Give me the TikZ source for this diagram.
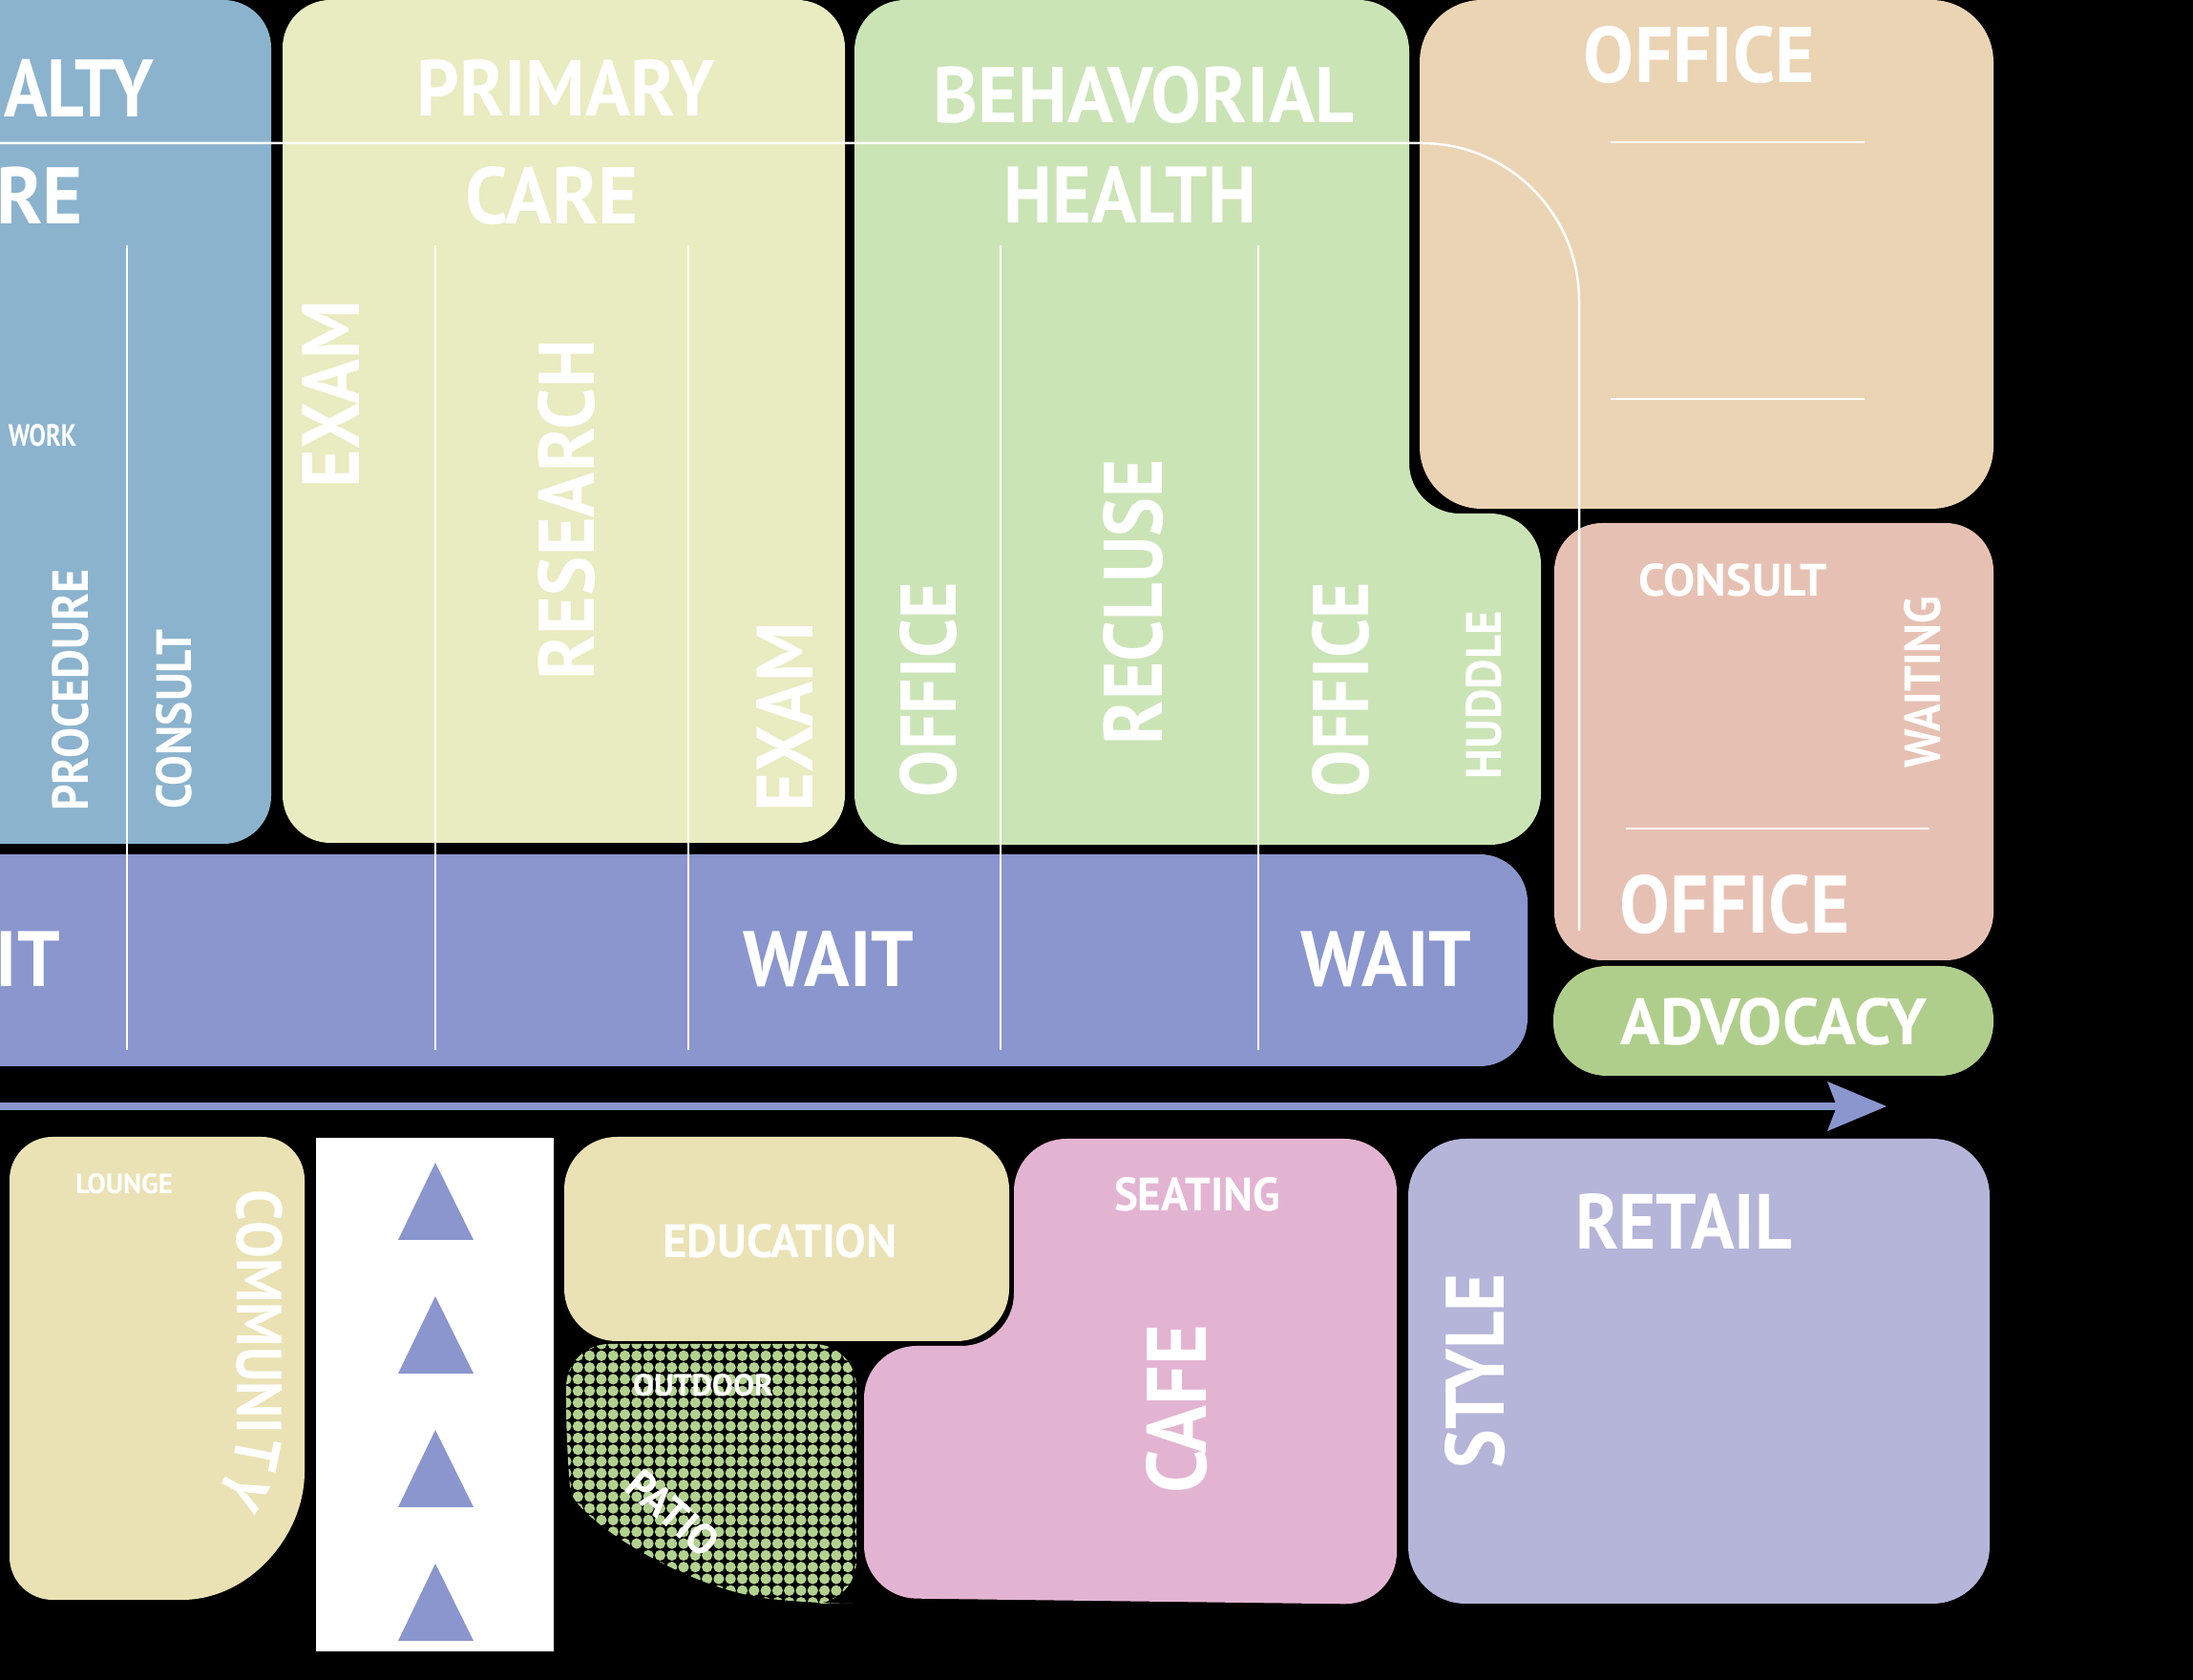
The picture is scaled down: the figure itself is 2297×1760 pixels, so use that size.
\documentclass[tikz,border=0pt]{standalone}
\usepackage{fontspec}
\setmainfont{PT Sans}
\newfontfamily\commfont{PT Sans}[FakeStretch=0.87]
\usepackage{graphicx}
\usetikzlibrary{decorations.text}
\definecolor{cBlue}{HTML}{8BB3CE}
\definecolor{cPrim}{HTML}{E9EBC0}
\definecolor{cBeh}{HTML}{CBE4B6}
\definecolor{cOrange}{HTML}{EAD4B4}
\definecolor{cPink}{HTML}{E6C1B3}
\definecolor{cAdv}{HTML}{B0CE8B}
\definecolor{cWait}{HTML}{8A96CD}
\definecolor{cComm}{HTML}{EAE2B4}
\definecolor{cCafe}{HTML}{E3B4D2}
\definecolor{cRetail}{HTML}{B5B5D9}
\definecolor{cDot}{HTML}{B2D18E}
\newlength\pxu
\setlength\pxu{0.1mm}
\newcommand\rtxt[3]{\resizebox{#1\pxu}{#2\pxu}{\bfseries #3}}
\tikzset{
  lab/.style={text=white, inner sep=0pt, outer sep=0pt},
  wline/.style={draw=white, line width=0.25mm},
}
\begin{document}
\begin{tikzpicture}[x=0.1mm,y=-0.1mm]
\useasboundingbox (0,0) rectangle (2297,1760);
\fill[black] (0,0) rectangle (2297,1760);
\clip (0,0) rectangle (2297,1760);

% ---- upper zones
\fill[cBlue, rounded corners=5mm] (-100,0) rectangle (284,884);
\fill[cPrim, rounded corners=5mm] (296,0) rectangle (885,883);
\fill[cBeh, rounded corners=5.3mm] (895,0) -- (1476,0) -- (1476,538) -- (1614,538) -- (1614,885) -- (895,885) -- cycle;
\fill[cOrange, rounded corners=6.5mm] (1487,0) rectangle (2088,533);
\fill[cPink, rounded corners=5mm] (1628,548) rectangle (2088,1006);
\fill[cAdv, rounded corners=5.6mm] (1627,1012) rectangle (2088,1127);
\fill[cWait, rounded corners=5mm] (-100,895) rectangle (1600,1117);

% ---- arrow
\fill[cWait] (-10,1155) rectangle (1925,1163);
\fill[cWait] (1914,1133) -- (1976,1159) -- (1914,1185) -- (1924,1159) -- cycle;

% ---- lower zones
\fill[cComm, rounded corners=4.5mm] (10,1191) -- (319,1191) -- (319,1497)
   .. controls (319,1610) and (260,1676) .. (146,1676) -- (10,1676) -- cycle;
\fill[white] (331,1192) rectangle (580,1730);
\foreach \k in {0,1,2,3}{
  \fill[cWait] (456,{1218+\k*140}) -- (496,{1299+\k*140}) -- (417,{1299+\k*140}) -- cycle;
}
\fill[cComm, rounded corners=5.5mm] (591,1191) rectangle (1057,1405);
\begin{scope}
  \clip[rounded corners=4.5mm] (593,1408) -- (897,1408) -- (897,1680) -- (850,1680)
     .. controls (720,1665) and (600,1590) .. (593,1515) -- cycle;
  \foreach \i in {0,...,25}{
    \foreach \j in {0,...,23}{
      \fill[cDot] ({593+\i*12.3},{1408+\j*12.3}) circle (0.56mm);
    }
  }
\end{scope}
\fill[cCafe, rounded corners=5.5mm] (1062,1193) -- (1463,1193) -- (1463,1681) -- (905,1674) -- (905,1410) -- (1062,1410) -- cycle;
\fill[cRetail, rounded corners=6mm] (1475,1193) rectangle (2084,1680);

% ---- white lines
\draw[wline, rounded corners=16.5mm] (-10,150) -- (1654,150) -- (1654,975);
\foreach \xx in {133,456,721,1048,1318}{
  \draw[wline, line width=0.2mm] (\xx,257) -- (\xx,1100);
}
\draw[wline, line width=0.2mm] (1687,149) -- (1953,149);
\draw[wline, line width=0.2mm] (1687,418) -- (1953,418);
\draw[wline, line width=0.2mm] (1703,868) -- (2021,868);

% ---- labels
\node[lab, anchor=east] (tSpec) at (161,92.5) {\rtxt{343}{61}{SPECIALTY}};
\node[lab, anchor=east] (tCareA) at (87,205) {\rtxt{181}{60}{CARE}};
\node[lab] (tWork) at (44.5,456.5) {\rtxt{71}{23}{WORK}};
\node[lab, rotate=90] (tProc) at (74,723) {\rtxt{253}{38}{PROCEDURE}};
\node[lab, rotate=90] (tConsA) at (182.5,754) {\rtxt{188}{37}{CONSULT}};

\node[lab] (tPrim) at (593,92.5) {\rtxt{312}{59}{PRIMARY}};
\node[lab] (tCareB) at (578.5,205) {\rtxt{181}{60}{CARE}};
\node[lab, rotate=90] (tExamA) at (346,413) {\rtxt{196}{60}{EXAM}};
\node[lab, rotate=90] (tRes) at (593.5,534) {\rtxt{356}{59}{RESEARCH}};
\node[lab, rotate=90] (tExamB) at (821.5,751) {\rtxt{198}{59}{EXAM}};

\node[lab] (tBeh) at (1198,99.5) {\rtxt{440}{59}{BEHAVORIAL}};
\node[lab] (tHealth) at (1184,204.5) {\rtxt{264}{59}{HEALTH}};
\node[lab, rotate=90] (tOffA) at (972.5,722.5) {\rtxt{225}{59}{OFFICE}};
\node[lab, rotate=90] (tRecl) at (1187.5,630.5) {\rtxt{299}{62}{RECLUSE}};
\node[lab, rotate=90] (tOffB) at (1404.5,722.5) {\rtxt{225}{59}{OFFICE}};
\node[lab, rotate=90] (tHud) at (1554.5,728) {\rtxt{176}{37}{HUDDLE}};

\node[lab] (tOffC) at (1780,57.5) {\rtxt{242}{59}{OFFICE}};
\node[lab] (tConsB) at (1815,608) {\rtxt{197}{34}{CONSULT}};
\node[lab, rotate=90] (tWaiting) at (2014,715) {\rtxt{180}{38}{WAITING}};
\node[lab] (tOffD) at (1817.5,947.5) {\rtxt{241}{61}{OFFICE}};
\node[lab] (tAdv) at (1858,1070.5) {\rtxt{320}{49}{ADVOCACY}};

\node[lab, anchor=east] (tWaitA) at (63,1005) {\rtxt{179}{58}{WAIT}};
\node[lab] (tWaitB) at (868,1005) {\rtxt{179}{58}{WAIT}};
\node[lab] (tWaitC) at (1452,1005) {\rtxt{179}{58}{WAIT}};

\node[lab] (tLounge) at (130,1240.5) {\rtxt{102}{21}{LOUNGE}};
\path[decorate, decoration={text along path, text color=white,
   text={|\commfont\bfseries\fontsize{19pt}{19pt}\selectfont|COMMUNITY}}]
   (248,1247) -- (248,1497) .. controls (248,1557) and (202,1605) .. (146,1605);
\node[lab] (tEdu) at (817,1300.5) {\rtxt{246}{35}{EDUCATION}};
\node[lab] (tOut) at (736.5,1451.5) {\rtxt{147}{23}{OUTDOOR}};
\node[lab, rotate=-41] (tPatio) at (705,1585) {\rtxt{112}{32}{PATIO}};
\node[lab] (tSeat) at (1254,1251.5) {\rtxt{174}{35}{SEATING}};
\node[lab, rotate=90] (tCafe) at (1232.5,1476.5) {\rtxt{177}{63}{CAFE}};
\node[lab] (tRetail) at (1763.5,1280) {\rtxt{227}{58}{RETAIL}};
\node[lab, rotate=90] (tStyle) at (1545,1436) {\rtxt{204}{62}{STYLE}};
\end{tikzpicture}
\end{document}
